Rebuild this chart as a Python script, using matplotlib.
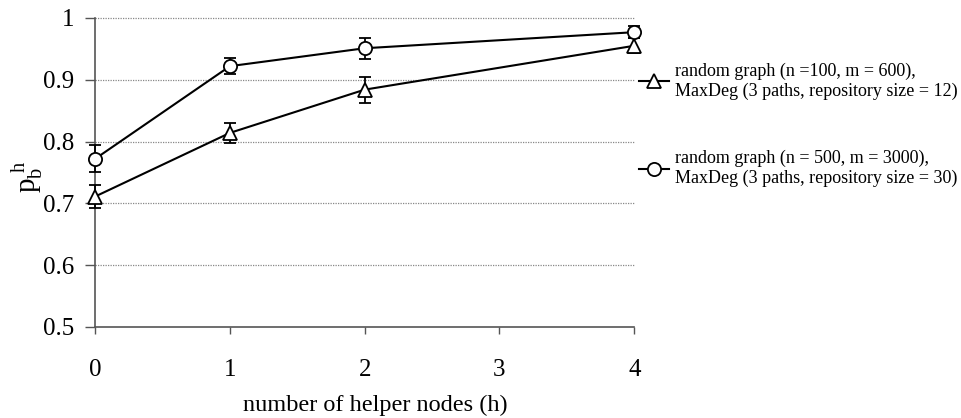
import matplotlib.pyplot as plt
from matplotlib.lines import Line2D

helpers = [0, 1, 2, 4]

tri_vals = [0.711, 0.814, 0.884, 0.955]
tri_err = [0.018, 0.016, 0.021, 0.012]
circ_vals = [0.772, 0.922, 0.951, 0.977]
circ_err = [0.022, 0.013, 0.017, 0.010]

labels = [
    "random graph (n =100, m = 600),\nMaxDeg (3 paths, repository size = 12)",
    "random graph (n = 500, m = 3000),\nMaxDeg (3 paths, repository size = 30)",
]

plt.rcParams["font.family"] = ["Liberation Serif", "DejaVu Serif"]
plt.rcParams["mathtext.fontset"] = "custom"
plt.rcParams["mathtext.rm"] = "Liberation Serif"
plt.rcParams["mathtext.it"] = "Liberation Serif"

fig = plt.figure(figsize=(9.61, 4.18), dpi=100)
ax = fig.add_axes([0.099, 0.218, 0.561, 0.739])

for y in [0.6, 0.7, 0.8, 0.9, 1.0]:
    ax.axhline(y, color="#888888", lw=0.9, ls=(0, (1, 1)), zorder=0)

style = dict(color="black", lw=1.5, mfc="white", mec="black", mew=1.3,
             ms=9.5, capsize=4, elinewidth=1.3, capthick=1.3, zorder=3)
ax.errorbar(helpers, tri_vals, yerr=tri_err, marker="^", **style)
ax.errorbar(helpers, circ_vals, yerr=circ_err, marker="o", **style)

ax.set_xlim(0, 4)
ax.set_ylim(0.5, 1.0)
ax.set_xticks([0, 1, 2, 3, 4])
ax.set_yticks([0.5, 0.6, 0.7, 0.8, 0.9, 1.0])
ax.set_yticklabels(["0.5", "0.6", "0.7", "0.8", "0.9", "1"])
ax.tick_params(labelsize=18, width=1, color="#555555")
ax.tick_params(axis="y", length=7, pad=8)
ax.tick_params(axis="x", length=5, pad=18)
for s in ["top", "right"]:
    ax.spines[s].set_visible(False)
for s in ["left", "bottom"]:
    ax.spines[s].set_color("#555555")
    ax.spines[s].set_linewidth(1.2)
for art in ax.get_children():
    art.set_clip_on(False)

# axis titles placed as in the reference
fig.text(375 / 961, 1 - 405 / 418, "number of helper nodes (h)",
         fontsize=17.5, ha="center", va="center")
fig.text(27 / 961, 1 - 177 / 418, r"$\mathregular{p_b^{\ h}}$",
         fontsize=21, rotation=90, ha="center", va="center")

handles = [
    Line2D([], [], color="black", lw=1.5, marker="^", mfc="white", mec="black", mew=1.3, ms=9.5),
    Line2D([], [], color="black", lw=1.5, marker="o", mfc="white", mec="black", mew=1.3, ms=9.5),
]
ax.legend(handles, labels, loc="upper left", bbox_to_anchor=(0.995, 0.88),
          frameon=False, fontsize=13, handlelength=1.7, handletextpad=0.3,
          labelspacing=2.8, borderaxespad=0.0)

fig.savefig("out.png", dpi=100)
